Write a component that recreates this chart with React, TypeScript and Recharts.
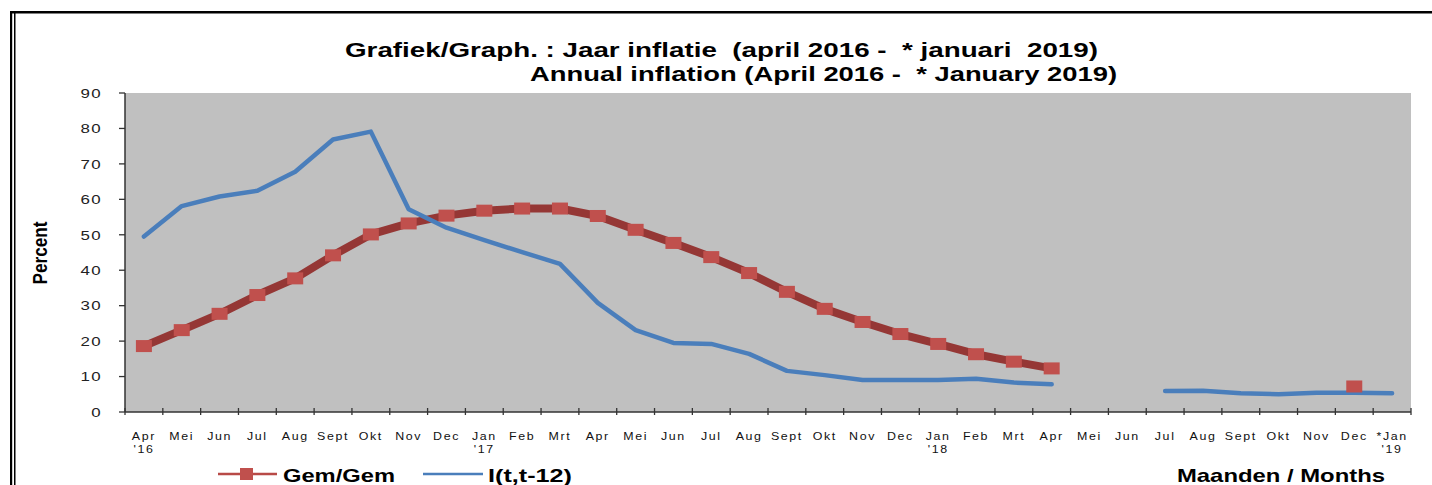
import React from 'react';
import { LineChart, Line, XAxis, YAxis, CartesianGrid } from 'recharts';

const months = ['Apr','Mei','Jun','Jul','Aug','Sept','Okt','Nov','Dec','Jan','Feb','Mrt','Apr','Mei','Jun','Jul','Aug','Sept','Okt','Nov','Dec','Jan','Feb','Mrt','Apr','Mei','Jun','Jul','Aug','Sept','Okt','Nov','Dec','*Jan'];
const years = ["'16",'','','','','','','','',"'17",'','','','','','','','','','','',"'18",'','','','','','','','','','','',"'19"];
const gemGem = [18.6,23.1,27.7,33.0,37.7,44.2,50.1,53.2,55.4,56.8,57.4,57.4,55.3,51.4,47.7,43.7,39.2,33.9,29.1,25.4,22.0,19.2,16.3,14.2,12.3,null,null,null,null,null,null,null,7.2,null];
const itt12 = [49.5,58.1,60.8,62.4,67.8,76.9,79.1,57.2,52.0,48.5,45.1,41.8,30.8,23.1,19.5,19.2,16.4,11.6,10.4,9.0,9.0,9.0,9.4,8.3,7.8,null,null,5.9,6.0,5.3,5.0,5.4,5.4,5.3];
const yTicks = [0,10,20,30,40,50,60,70,80,90];

const data = months.map((m, i) => ({ key: i, m, yr: years[i], gem: gemGem[i], itt: itt12[i] }));

const FONT = '"Liberation Sans", Arial, sans-serif';
const HALF_BAND = 18.91;

const XTick = (props: any) => {
  const { x, y, index } = props;
  const i = props.payload?.index ?? index;
  const last = i === months.length - 1;
  return (
    <g>
      <line x1={x - HALF_BAND} x2={x - HALF_BAND} y1={y - 4} y2={y + 3} stroke="#333" strokeWidth={1.3} />
      {last && <line x1={x + HALF_BAND} x2={x + HALF_BAND} y1={y - 4} y2={y + 3} stroke="#333" strokeWidth={1.3} />}
      <text transform={`translate(${x},${y + 28}) scale(1.15,1)`} textAnchor="middle" fontFamily={FONT} fontSize={10.8} letterSpacing={1.4} fill="#111">{months[i]}</text>
      {years[i] && (
        <text transform={`translate(${x},${y + 41}) scale(1.15,1)`} textAnchor="middle" fontFamily={FONT} fontSize={10.8} letterSpacing={1.4} fill="#111">{years[i]}</text>
      )}
    </g>
  );
};

const YTick = (props: any) => {
  const { x, y, payload } = props;
  return (
    <text transform={`translate(${x - 17},${y + 4.8}) scale(1.3,1)`} textAnchor="end" fontFamily={FONT} fontSize={13} letterSpacing={1} fill="#222">{payload.value}</text>
  );
};

const SquareDot = (p: any) => {
  if (p.cx == null || p.cy == null || p.value == null) return <g key={p.key ?? p.index} />;
  return <rect key={p.key ?? p.index} x={p.cx - 8} y={p.cy - 6} width={16} height={12} fill="#C0504D" />;
};

export default function App() {
  return (
    <div style={{ position: 'absolute', left: 0, top: 0, width: 1432, height: 485, background: '#fff' }}>
      <LineChart width={1432} height={485} data={data} margin={{ top: 93, right: 21, bottom: 0, left: 0 }}>
        <CartesianGrid fill="#C0C0C0" horizontal={false} vertical={false} stroke="none" />
        <XAxis dataKey="key" type="category" scale="point" padding={{ left: HALF_BAND, right: HALF_BAND }} height={73} interval={0} tickSize={0} tickMargin={0} tickLine={false} tick={<XTick />} axisLine={{ stroke: '#333', strokeWidth: 1.5 }} />
        <YAxis width={125} domain={[0, 90]} ticks={yTicks} interval={0} tickSize={6} tickMargin={0} tick={<YTick />} tickLine={{ stroke: '#333', strokeWidth: 1.3 }} axisLine={{ stroke: '#333', strokeWidth: 1.5 }} />
        <Line dataKey="gem" type="linear" stroke="#953735" strokeWidth={8} strokeLinejoin="round" dot={SquareDot} activeDot={false} isAnimationActive={false} connectNulls={false} />
        <Line dataKey="itt" type="linear" stroke="#4A7EBB" strokeWidth={4.5} strokeLinejoin="round" strokeLinecap="round" dot={false} activeDot={false} isAnimationActive={false} connectNulls={false} />
      </LineChart>
      <svg width={1432} height={485} style={{ position: 'absolute', left: 0, top: 0, pointerEvents: 'none' }}>
        <rect x={10} y={11} width={1422} height={2.5} fill="#000" />
        <rect x={10} y={11} width={2.2} height={474} fill="#000" />
        <rect x={14} y={13} width={1.5} height={472} fill="#000" />
        <text x={345} y={56.5} fontFamily={FONT} fontWeight="bold" fontSize={19.5} textLength={753} lengthAdjust="spacingAndGlyphs" fill="#000" xmlSpace="preserve">Grafiek/Graph. : Jaar inflatie  (april 2016 -  * januari  2019)</text>
        <text x={530} y={80.5} fontFamily={FONT} fontWeight="bold" fontSize={19.5} textLength={587} lengthAdjust="spacingAndGlyphs" fill="#000" xmlSpace="preserve">Annual inflation (April 2016 -  * January 2019)</text>
        <text transform="translate(47,253) rotate(-90)" textAnchor="middle" fontFamily={FONT} fontWeight="bold" fontSize={21} textLength={63} lengthAdjust="spacingAndGlyphs" fill="#000">Percent</text>
        <line x1={218} x2={277} y1={474} y2={474} stroke="#B84A47" strokeWidth={2.5} />
        <rect x={240} y={468} width={13} height={12} fill="#C0504D" />
        <text x={283} y={481.5} fontFamily={FONT} fontWeight="bold" fontSize={18.5} textLength={112} lengthAdjust="spacingAndGlyphs" fill="#000">Gem/Gem</text>
        <line x1={423} x2={483} y1={474} y2={474} stroke="#4A7EBB" strokeWidth={2.5} />
        <text x={488} y={481.5} fontFamily={FONT} fontWeight="bold" fontSize={18.5} textLength={84} lengthAdjust="spacingAndGlyphs" fill="#000">I(t,t-12)</text>
        <text x={1177} y={481.5} fontFamily={FONT} fontWeight="bold" fontSize={18.5} textLength={208} lengthAdjust="spacingAndGlyphs" fill="#000">Maanden / Months</text>
      </svg>
    </div>
  );
}
